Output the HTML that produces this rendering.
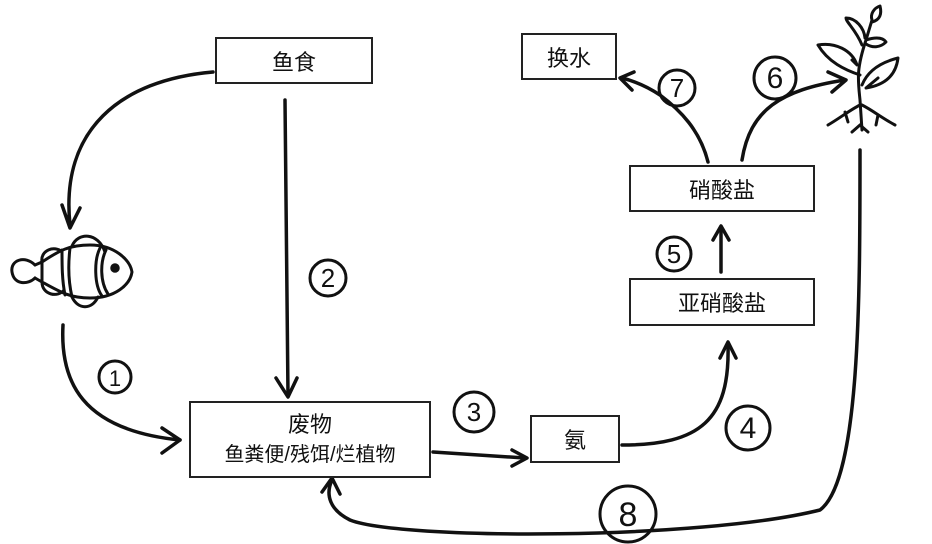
<!DOCTYPE html>
<html><head><meta charset="utf-8"><style>
body{margin:0;background:#fff;width:932px;height:544px;overflow:hidden}
.b{position:absolute;border:2px solid #222;box-sizing:border-box;display:flex;align-items:center;justify-content:center;flex-direction:column;font-family:"Liberation Sans","Noto Sans CJK SC",sans-serif;font-size:22px;color:#111;background:#fff}
</style></head><body>
<svg width="932" height="544" style="position:absolute;left:0;top:0" fill="none" stroke="#111" stroke-width="3.5" stroke-linecap="round" stroke-linejoin="round" font-family="Liberation Sans, sans-serif">
<!-- arrows -->
<path d="M213 72 C120 80 60 130 70 225"/><path d="M62 205 L70 228 L80 208"/>
<path d="M285 100 L288 395"/><path d="M276 378 L288 397 L297 378"/>
<path d="M63 325 C60 380 80 430 180 440"/><path d="M162 428 L180 440 L162 453"/>
<path d="M433 452 L525 458"/><path d="M512 450 L527 458 L512 466"/>
<path d="M622 445 C700 445 730 420 728 345"/><path d="M720 358 L728 342 L736 358"/>
<path d="M721 272 L721 228"/><path d="M713 240 L721 226 L729 240"/>
<path d="M708 162 C700 130 680 110 660 95 C645 85 630 80 622 78"/><path d="M634 72 L620 78 L632 90"/>
<path d="M742 160 C750 110 780 90 845 80"/><path d="M828 72 L846 80 L832 92"/>
<path d="M860 150 C860 300 860 480 820 510 C700 540 400 540 350 520 C330 510 325 495 332 480"/><path d="M322 492 L332 478 L340 494"/>
<!-- fish -->
<g stroke-width="3">
<path d="M35 265 C25 255 10 260 12 272 C14 285 28 285 35 278"/>
<path d="M35 265 L42 262 L42 282 L35 278"/>
<path d="M42 262 C60 250 70 245 90 245 C115 245 130 260 132 272 C130 285 115 298 90 298 C70 298 60 292 42 282"/>
<path d="M62 250 C62 265 62 280 65 295"/><path d="M70 248 C68 265 68 280 72 297"/>
<path d="M100 248 C94 260 94 285 102 296"/><path d="M106 250 C100 262 100 282 108 294"/>
<path d="M72 246 C78 232 98 232 105 252"/>
<path d="M72 297 C78 310 92 310 98 297"/>
<path d="M42 262 C40 250 55 245 62 252"/><path d="M42 282 C42 295 58 298 64 290"/>
</g><circle cx="115" cy="268" r="3" fill="#111"/>
<!-- plant -->
<g stroke-width="3">
<path d="M862 130 L860 100 C858 80 856 70 866 40 L872 20"/>
<path d="M860 75 C845 70 828 62 818 45 C835 42 852 50 857 65 L852 60"/>
<path d="M862 85 C868 70 882 62 898 58 C896 75 885 85 866 88 L878 78"/>
<path d="M862 45 C856 30 846 22 846 18 C856 18 864 28 865 38"/>
<path d="M866 40 C872 38 882 36 886 42 C880 48 872 48 866 44"/>
<path d="M872 20 C870 14 874 8 880 6 C882 14 880 20 872 22"/>
<path d="M860 105 C850 110 840 118 828 125 M845 112 L848 122 M862 105 C872 110 882 118 895 125 M878 115 L876 125 M860 125 L852 132 M860 125 L868 132"/>
</g>
<!-- numbers -->
<g stroke-width="3">
<circle cx="115" cy="377" r="16"/><circle cx="328" cy="278" r="18"/><circle cx="474" cy="412" r="20"/>
<circle cx="748" cy="428" r="22"/><circle cx="674" cy="254" r="17"/><circle cx="677" cy="88" r="18"/>
<circle cx="775" cy="78" r="21"/><circle cx="628" cy="514" r="28"/>
</g>
<g fill="#111" stroke="none" font-size="26" text-anchor="middle">
<text x="115" y="386" font-size="22">1</text><text x="328" y="287">2</text><text x="474" y="421">3</text>
<text x="748" y="438" font-size="30">4</text><text x="674" y="263">5</text><text x="677" y="97">7</text>
<text x="775" y="88" font-size="30">6</text><text x="628" y="526" font-size="34">8</text>
</g>
</svg>
<div class="b" style="left:215px;top:37px;width:158px;height:47px">鱼食</div>
<div class="b" style="left:521px;top:33px;width:96px;height:47px">换水</div>
<div class="b" style="left:629px;top:165px;width:186px;height:47px">硝酸盐</div>
<div class="b" style="left:629px;top:278px;width:186px;height:48px">亚硝酸盐</div>
<div class="b" style="left:189px;top:401px;width:242px;height:77px;line-height:30px">废物<span style="font-size:20px">鱼粪便/残饵/烂植物</span></div>
<div class="b" style="left:530px;top:415px;width:90px;height:48px">氨</div>
</body></html>
